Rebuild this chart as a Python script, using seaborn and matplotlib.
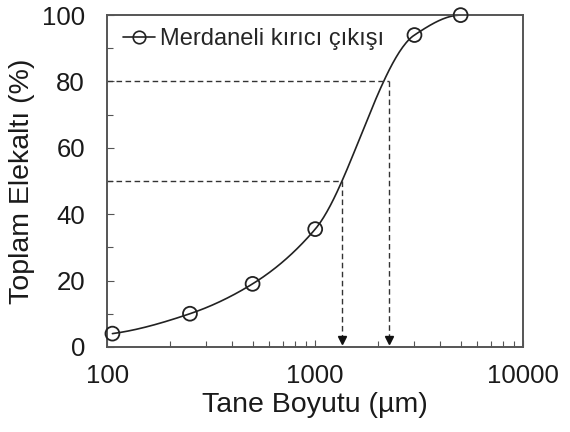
import matplotlib
matplotlib.use("Agg")
import matplotlib.pyplot as plt
from matplotlib.lines import Line2D
from matplotlib.ticker import FixedLocator, MultipleLocator, LogLocator, NullFormatter
import numpy as np
import pandas as pd
import seaborn as sns

# sieve data
size_um = [106, 250, 500, 1000, 3000, 5000]
passing_pct = [4, 10, 19, 35.5, 94, 100]
d50 = 1345
d80 = 2265
series_label = "Merdaneli kırıcı çıkışı"


def smooth_curve(xs, ys, n=60):
    # monotone cubic (PCHIP) through the points in (log10 x, y)
    u = np.log10(np.asarray(xs, float))
    y = np.asarray(ys, float)
    h = np.diff(u)
    delta = np.diff(y) / h
    m = np.zeros_like(y)
    for k in range(1, len(y) - 1):
        if delta[k - 1] * delta[k] > 0:
            w1 = 2 * h[k] + h[k - 1]
            w2 = h[k] + 2 * h[k - 1]
            m[k] = (w1 + w2) / (w1 / delta[k - 1] + w2 / delta[k])
    m[0] = max(0.0, ((2 * h[0] + h[1]) * delta[0] - h[0] * delta[1]) / (h[0] + h[1]))
    m[-1] = max(0.0, ((2 * h[-1] + h[-2]) * delta[-1] - h[-1] * delta[-2]) / (h[-1] + h[-2]))
    t = np.linspace(0, 1, n)
    out_u, out_y = [], []
    for k in range(len(h)):
        h00 = 2 * t**3 - 3 * t**2 + 1
        h10 = t**3 - 2 * t**2 + t
        h01 = -2 * t**3 + 3 * t**2
        h11 = t**3 - t**2
        out_u.extend(u[k] + t * h[k])
        out_y.extend(h00 * y[k] + h10 * h[k] * m[k] + h01 * y[k + 1] + h11 * h[k] * m[k + 1])
    return 10 ** np.array(out_u), np.array(out_y)


sns.set_style("ticks")
plt.rcParams["font.family"] = ["Liberation Sans", "DejaVu Sans"]
plt.rcParams["xtick.direction"] = "in"
plt.rcParams["ytick.direction"] = "in"

fig = plt.figure(figsize=(5.7, 4.32), dpi=100)
ax = fig.add_axes([0.188, 0.197, 0.730, 0.768])

cx, cy = smooth_curve(size_um, passing_pct)
curve = pd.DataFrame({"x": cx, "y": np.minimum(cy, 100)})
sns.lineplot(data=curve, x="x", y="y", ax=ax, color="#222222", lw=1.2,
             sort=False, estimator=None)
pts = pd.DataFrame({"x": size_um, "y": passing_pct})
sns.scatterplot(data=pts, x="x", y="y", ax=ax, marker="o", s=100,
                facecolor="none", edgecolor="#222222", linewidth=1.3,
                zorder=5, clip_on=False)

dash = dict(color="#333333", lw=1.0, ls=(0, (4, 2.5)))
for d, level in ((d50, 50), (d80, 80)):
    ax.plot([100, d], [level, level], **dash)
    ax.plot([d, d], [level, 1.5], **dash)
    ax.plot([d], [2.2], marker="v", color="#111111", ms=6, ls="none")

ax.set_xscale("log")
ax.set_xlim(100, 10000)
ax.set_ylim(0, 100)
ax.xaxis.set_major_locator(FixedLocator([100, 1000, 10000]))
ax.xaxis.set_minor_locator(LogLocator(base=10, subs=np.arange(2, 10)))
ax.xaxis.set_minor_formatter(NullFormatter())
ax.set_xticklabels(["100", "1000", "10000"])
ax.yaxis.set_major_locator(MultipleLocator(20))
ax.yaxis.set_minor_locator(MultipleLocator(10))
ax.tick_params(axis="both", which="major", labelsize=18.5, length=5, width=0.8,
               color="#555555", labelcolor="#1a1a1a")
ax.tick_params(axis="x", which="major", pad=12)
ax.tick_params(axis="y", which="major", pad=16)
ax.tick_params(axis="both", which="minor", length=4, width=0.8, color="#555555")
ax.tick_params(top=False, right=False, which="both")

for s in ax.spines.values():
    s.set_visible(True)
    s.set_color("#555555")
    s.set_linewidth(1.4)

ax.set_xlabel("Tane Boyutu (µm)", fontsize=20.5, labelpad=3, color="#1a1a1a")
ax.set_ylabel("Toplam Elekaltı (%)", fontsize=20.5, labelpad=5, color="#1a1a1a")

handle = Line2D([], [], color="#222222", lw=1.2, marker="o", ms=9,
                markerfacecolor="none", markeredgewidth=1.2)
ax.legend([handle], [series_label], loc="upper left", frameon=False,
          fontsize=17, handlelength=1.35, handletextpad=0.2,
          borderaxespad=0.15, bbox_to_anchor=(0.008, 1.0))

fig.savefig("out.png", dpi=100)
